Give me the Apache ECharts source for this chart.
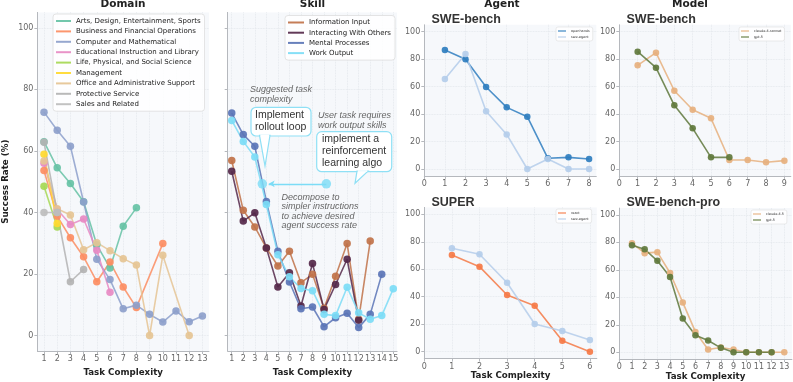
<!DOCTYPE html>
<html><head><meta charset="utf-8">
<script src="https://cdn.jsdelivr.net/npm/echarts@6/dist/echarts.min.js"></script>
<style>html,body{margin:0;padding:0;background:#fff}#c{width:793px;height:382px}</style>
</head><body><div id="c"></div>
<script>
// ---------- DATA ----------
const domainNames = ['Arts, Design, Entertainment, Sports','Business and Financial Operations','Computer and Mathematical','Educational Instruction and Library','Life, Physical, and Social Science','Management','Office and Administrative Support','Protective Service','Sales and Related'];
const domainColors = ['#66c2a5','#fc8d62','#8da0cb','#e78ac3','#a6d854','#ffd92f','#e5c494','#b3b3b3','#bdbdbd'];
const arts        = [63, 54.5, 49.4, 43.5, 29.5, 22, 35.5, 41.5];
const business    = [53.6, 38.8, 31.8, 25.6, 17.5, 23.9, 15.8, 9.1, null, 29.9];
const computer    = [72.6, 66.7, 61.5, 43.4, 24.8, 18.2, 8.7, 9.9, 6.9, 4.4, 8, 4.5, 6.4];
const educational = [56, 41, 36.1, 37.9, 27.7, 14.1];
const life        = [48.5, 35.3];
const management  = [58.9, 36.4];
const office      = [56.7, 41.2, 39.2, 27.9, 30.2, 27.6, 25, 22.9, 0, 26.1, null, 0];
const protective  = [62.8, 40, 17.5, 21.5];
const sales       = [40, 40];
const domainData = [arts, business, computer, educational, life, management, office, protective, sales];

const skillNames = ['Information Input','Interacting With Others','Mental Processes','Work Output'];
const skillColors = ['#c07249','#55284a','#5a74b6','#7cdcf6'];
const infoInput   = [56.9, 40.7, 35.3, 28.5, 22.6, 27.4, 17.2, 19.9, 8.9, 19.3, 29.9, 5.3, 30.7];
const interacting = [53.4, 37.2, 39.9, 28.5, 15.8, 20.4, 9.6, 23.4, 8.5, 16.6, 24.8, 5];
const mental      = [72.3, 65.3, 61.5, 43.6, 27.4, 17.4, 8.7, 9.3, 2.9, 5.8, 7.3, 2.6, 6.9, 19.9];
const workOutput  = [69.9, 63.1, 58, 42.6, 26.3, 19.1, 15.3, 14.6, 6.9, 6.5, 15.7, 7.4, 5.3, 6.5, 15.2];
const skillData = [infoInput, interacting, mental, workOutput];
const annotPoints = [[3.65, 49.3], [9.2, 49.3]];
const annotArrow = [[9.2, 49.3], [4.2, 49.3]];

const openhands     = [86.7, 79.9, 59.7, 44.9, 38.1, 7.8, 8.5, 7.3];
const sweAgentSWE   = [65.5, 83.7, 42, 25.2, 0, 7.3, 0, 0];
const claudeSonnet  = [75.5, 84.7, 57, 43.2, 36.9, 6.6, 6.6, 4.9, 6.1];
const gpt5SWE       = [85.4, 73.8, 46.4, 29.6, 8.5, 8.5];
const react         = [70.4, 61.9, 41.3, 33.5, 8, 0];
const sweAgentSUPER = [75.3, 70.9, 50.2, 20.2, 15.1, 8.5];
const claude45      = [79.4, 72.2, 72.9, 57.7, 36.3, 14.8, 2, 3.5, 2, 0, 0, 0, 0];
const gpt5Pro       = [78, 75, 66.6, 54.8, 24.5, 12.4, 8.5, 3.2, 0, 0, 0, 0];

const yTicks = [0, 20, 40, 60, 80, 100];
const xTicksDomain = [1,2,3,4,5,6,7,8,9,10,11,12,13];
const xTicksSkill = [1,2,3,4,5,6,7,8,9,10,11,12,13,14,15];
const xTicksAgentTop = [0,1,2,3,4,5,6,7,8];
const xTicksModelTop = [0,1,2,3,4,5,6,7,8,9];
const xTicksAgentBot = [0,1,2,3,4,5,6];
const xTicksModelBot = [0,1,2,3,4,5,6,7,8,9,10,11,12,13];

// ---------- HELPERS ----------
const DV = '"DejaVu Sans", sans-serif';
const LS = '"Liberation Sans", Arial, sans-serif';
function pairs(arr){ const out=[]; arr.forEach((v,i)=>{ if(v!==null) out.push([i+1, v]); }); return out; }
function ser(name, arr, color, gi, size){
  return {type:'line', name, xAxisIndex:gi, yAxisIndex:gi, data:pairs(arr), symbol:'circle', symbolSize:size,
    itemStyle:{color, opacity:0.92}, lineStyle:{color, width:1.6, opacity:0.85}, emphasis:{disabled:true}, animation:false};
}
function gridAt(l,t,w,h){ return {left:l, top:t, width:w, height:h, show:true, backgroundColor:'#f6f8fb', borderWidth:0, containLabel:false}; }
const splitL = {show:true, lineStyle:{color:'#e1e5ea', type:'dotted', width:0.8}};
function xAx(gi, min, max, ticks, nameGap){
  return {type:'value', gridIndex:gi, min, max,
    axisLine:{show:true, onZero:false, lineStyle:{color:'#b5b8bd', width:1}},
    axisTick:{show:true, customValues:ticks, length:3, lineStyle:{color:'#b5b8bd'}},
    axisLabel:{customValues:ticks, fontSize:8, color:'#666', fontFamily:DV, margin:4},
    splitLine:splitL,
    name: nameGap ? 'Task Complexity' : '', nameLocation:'middle', nameGap: nameGap || 0,
    nameTextStyle:{fontFamily:DV, fontWeight:'bold', fontSize:8.7, color:'#222'}};
}
function yAx(gi, showLabel, name){
  return {type:'value', gridIndex:gi, min:-5, max:105,
    axisLine:{show:true, onZero:false, lineStyle:{color:'#b5b8bd', width:1}},
    axisTick:{show:true, customValues:yTicks, length:3, lineStyle:{color:'#b5b8bd'}},
    axisLabel:{show:showLabel, customValues:yTicks, fontSize:8, color:'#666', fontFamily:DV, margin:4},
    splitLine:splitL,
    name: name || '', nameLocation:'middle', nameGap:27,
    nameTextStyle:{fontFamily:DV, fontWeight:'bold', fontSize:8.7, color:'#222'}};
}
function smallLegend(names, left, top){
  return {data:names, orient:'vertical', left, top, icon:'rect', itemWidth:8, itemHeight:1.2, itemGap:2,
    padding:[2,3,2,2], backgroundColor:'rgba(255,255,255,0.85)', borderColor:'#ddd', borderWidth:0.6, borderRadius:2,
    textStyle:{fontSize:3.4, lineHeight:4, color:'#333', fontFamily:DV}, selectedMode:false};
}

// ---------- SERIES ----------
const series = [];
domainNames.forEach((n,i)=>series.push(ser(n, domainData[i], domainColors[i], 0, 7.5)));
skillNames.forEach((n,i)=>series.push(ser(n, skillData[i], skillColors[i], 1, 7.5)));
series.push({type:'scatter', name:'annot', xAxisIndex:1, yAxisIndex:1, data:annotPoints, symbolSize:9.5,
  itemStyle:{color:'#7cdcf6'}, z:5, animation:false,
  markLine:{silent:true, symbol:['none','arrow'], symbolSize:[5,6], label:{show:false},
    lineStyle:{color:'#7cdcf6', width:1.3, type:'solid'},
    data:[[{coord:annotArrow[0]},{coord:annotArrow[1]}]]}});
series.push(ser('openhands', openhands, '#2f7ebf', 2, 6.5));
series.push(ser('swe-agent', sweAgentSWE, '#b4cdea', 2, 6.5));
series.push(ser('claude-4-sonnet', claudeSonnet, '#e6b07e', 3, 6.5));
series.push(ser('gpt-5', gpt5SWE, '#5f783c', 3, 6.5));
series.push(ser('react', react, '#f57a46', 4, 6.5));
series.push(ser('swe-agent', sweAgentSUPER, '#b4cdea', 4, 6.5));
series.push(ser('claude-4.5', claude45, '#e6b07e', 5, 6.5));
series.push(ser('gpt-5', gpt5Pro, '#5f783c', 5, 6.5));

// ---------- GRAPHICS ----------
const cyan = '#8fe0f5';
const graphic = [
  {type:'text', x:123, y:-1, style:{text:'Domain', font:'bold 10.5px '+DV, fill:'#222', align:'center', verticalAlign:'top'}},
  {type:'text', x:312.5, y:-1, style:{text:'Skill', font:'bold 10.5px '+DV, fill:'#222', align:'center', verticalAlign:'top'}},
  {type:'text', x:502, y:-1, style:{text:'Agent', font:'bold 10.5px '+DV, fill:'#222', align:'center', verticalAlign:'top'}},
  {type:'text', x:690, y:-1, style:{text:'Model', font:'bold 10.5px '+DV, fill:'#222', align:'center', verticalAlign:'top'}},
  {type:'text', x:431.5, y:13, style:{text:'SWE-bench', font:'bold 12.5px '+LS, fill:'#333', verticalAlign:'top'}},
  {type:'text', x:626.5, y:13, style:{text:'SWE-bench', font:'bold 12.5px '+LS, fill:'#333', verticalAlign:'top'}},
  {type:'text', x:431.5, y:196, style:{text:'SUPER', font:'bold 12.5px '+LS, fill:'#333', verticalAlign:'top'}},
  {type:'text', x:626.5, y:196, style:{text:'SWE-bench-pro', font:'bold 12.5px '+LS, fill:'#333', verticalAlign:'top'}},
  // annotations in Skill panel
  {type:'text', x:250, y:84, z:20, style:{text:'Suggested task\ncomplexity', font:'italic 9px '+LS, fill:'#666', lineHeight:10, verticalAlign:'top'}},
  {type:'text', x:318, y:110, z:20, style:{text:'User task requires\nwork output skills', font:'italic 9px '+LS, fill:'#666', lineHeight:10, verticalAlign:'top'}},
  {type:'text', x:281.5, y:192.5, z:20, style:{text:'Decompose to\nsimpler instructions\nto achieve desired\nagent success rate', font:'italic 9px '+LS, fill:'#666', lineHeight:9.4, verticalAlign:'top'}},
  {type:'rect', z:20, shape:{x:251, y:107.3, width:60, height:28.7, r:5}, style:{fill:'#fff', stroke:cyan, lineWidth:1.2}},
  {type:'polygon', z:21, shape:{points:[[259.5,135.4],[265,166],[270,135.4]]}, style:{fill:'#fff', stroke:cyan, lineWidth:1.2}},
  {type:'line', z:22, shape:{x1:260.3, y1:135.4, x2:269.2, y2:135.4}, style:{stroke:'#fff', lineWidth:1.6}},
  {type:'text', x:255, y:109, z:23, style:{text:'Implement\nrollout loop', font:'10.5px '+LS, fill:'#333', lineHeight:12, verticalAlign:'top'}},
  {type:'rect', z:20, shape:{x:316.7, y:131.7, width:75, height:40, r:5}, style:{fill:'#fff', stroke:cyan, lineWidth:1.2}},
  {type:'polygon', z:21, shape:{points:[[357,171.1],[355,183.3],[368,171.1]]}, style:{fill:'#fff', stroke:cyan, lineWidth:1.2}},
  {type:'line', z:22, shape:{x1:357.8, y1:171.1, x2:367.2, y2:171.1}, style:{stroke:'#fff', lineWidth:1.6}},
  {type:'text', x:322, y:133.5, z:23, style:{text:'implement a\nreinforcement\nlearning algo', font:'10.5px '+LS, fill:'#333', lineHeight:12, verticalAlign:'top'}}
];

const option = {
  backgroundColor:'#fff',
  animation:false,
  grid:[
    gridAt(37.4, 12.4, 171.6, 339.6),
    gridAt(227.7, 12.4, 169.4, 339.6),
    gridAt(424.3, 24.8, 172, 151.1),
    gridAt(619.3, 24.8, 171.5, 151.1),
    gridAt(424.3, 207.4, 172.5, 151.2),
    gridAt(619.3, 208.1, 172.6, 151.5)
  ],
  xAxis:[
    xAx(0, 0.5, 13.5, xTicksDomain, 17),
    xAx(1, 0.65, 15.33, xTicksSkill, 17),
    xAx(2, 0, 8.35, xTicksAgentTop, 0),
    xAx(3, 0, 9.35, xTicksModelTop, 0),
    xAx(4, 0, 6.25, xTicksAgentBot, 12),
    xAx(5, 0, 13.6, xTicksModelBot, 12)
  ],
  yAxis:[
    yAx(0, true, 'Success Rate (%)'),
    yAx(1, false),
    yAx(2, true), yAx(3, true), yAx(4, true), yAx(5, true)
  ],
  legend:[
    {data:domainNames, orient:'vertical', left:53, top:14, icon:'rect', itemWidth:15, itemHeight:2, itemGap:2.4,
      padding:[3,4,3,3], backgroundColor:'rgba(255,255,255,0.85)', borderColor:'#ddd', borderWidth:0.8, borderRadius:3,
      textStyle:{fontSize:7, lineHeight:8, color:'#222', fontFamily:DV}, selectedMode:false},
    {data:skillNames, orient:'vertical', left:285, top:15.5, icon:'rect', itemWidth:16, itemHeight:2, itemGap:2.2,
      padding:[3,4,3,3], backgroundColor:'rgba(255,255,255,0.85)', borderColor:'#ddd', borderWidth:0.8, borderRadius:3,
      textStyle:{fontSize:7, lineHeight:8, color:'#222', fontFamily:DV}, selectedMode:false},
    smallLegend(['openhands','swe-agent'], 556, 27),
    smallLegend(['claude-4-sonnet','gpt-5'], 739, 27),
    smallLegend(['react','swe-agent'], 556, 209),
    smallLegend(['claude-4.5','gpt-5'], 751, 210)
  ],
  graphic,
  series
};
const chart = echarts.init(document.getElementById('c'), null, {renderer:'canvas'});
chart.setOption(option);
</script></body></html>
